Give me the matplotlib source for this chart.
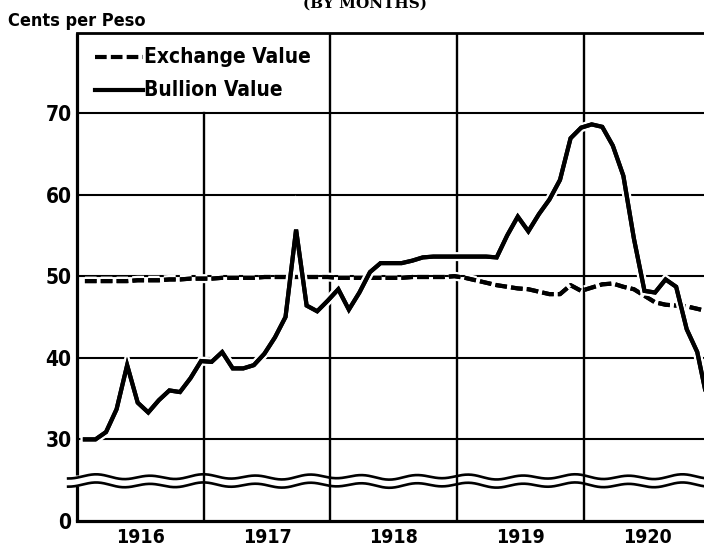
import numpy as np
import matplotlib
matplotlib.use("Agg")
import matplotlib.pyplot as plt
import matplotlib.patheffects as pe
from matplotlib.lines import Line2D
from matplotlib import font_manager as fm

# ---------------- data (monthly, Jan 1916 - Dec 1920) ----------------
years = [1916, 1917, 1918, 1919, 1920]
bullion = [
    30.0, 30.0, 30.9, 33.7, 39.1, 34.5, 33.3, 34.8, 36.0, 35.8, 37.5, 39.6,   # 1916
    39.5, 40.7, 38.7, 38.7, 39.1, 40.5, 42.5, 45.0, 55.7, 46.4, 45.7, 47.0,   # 1917
    48.4, 45.9, 48.0, 50.5, 51.6, 51.6, 51.6, 51.9, 52.3, 52.4, 52.4, 52.4,   # 1918
    52.4, 52.4, 52.4, 52.3, 55.0, 57.3, 55.5, 57.6, 59.4, 61.8, 66.9, 68.2,   # 1919
    68.6, 68.3, 66.0, 62.3, 54.6, 48.2, 48.0, 49.6, 48.7, 43.5, 40.7, 34.5,   # 1920
]
exchange = [
    49.4, 49.4, 49.4, 49.4, 49.4, 49.5, 49.5, 49.5, 49.6, 49.6, 49.7, 49.7,   # 1916
    49.7, 49.8, 49.8, 49.8, 49.8, 49.9, 49.9, 49.9, 49.9, 49.9, 49.9, 49.9,   # 1917
    49.8, 49.8, 49.8, 49.8, 49.8, 49.8, 49.8, 49.9, 49.9, 49.9, 49.9, 50.0,   # 1918
    49.8, 49.5, 49.2, 48.9, 48.7, 48.5, 48.4, 48.1, 47.8, 47.8, 48.9, 48.2,   # 1919
    48.6, 49.0, 49.1, 48.7, 48.4, 47.6, 46.8, 46.5, 46.4, 46.3, 46.0, 45.7,   # 1920
]
ytick_values = [0, 30, 40, 50, 60, 70]
series_labels = ["Exchange Value", "Bullion Value"]

# ---------------- helpers ----------------
BREAK_SHIFT = 20  # values >= 30 are drawn shifted down by 20 (broken axis)


def t(v):
    v = np.asarray(v, dtype=float)
    return np.where(v >= 30, v - BREAK_SHIFT, v * 10 / 30.0)


months = np.arange(len(bullion))
xm = years[0] + (months + 0.75) / 12.0

names = {f.name for f in fm.fontManager.ttflist}
if "Liberation Sans Narrow" in names:
    FONT = dict(family="Liberation Sans Narrow", weight="bold")
else:
    FONT = dict(family="DejaVu Sans", weight="bold", stretch="condensed")

W, H = 704, 548
fig = plt.figure(figsize=(W / 100, H / 100), dpi=100)
L, R, B, T = 77, 704, 521, 33
YTOP = 59.8
ax = fig.add_axes([L / W, 1 - B / H, (R - L) / W, (B - T) / H])
ax.set_xlim(1916, 1920.949)
ax.set_ylim(0, YTOP)

# grid
for v in ytick_values[1:]:
    ax.axhline(t(v), color="black", lw=1.5, zorder=1)
for yr in years[1:]:
    ymax = (t(70) / YTOP) if yr == 1917 else 1.0
    ax.axvline(yr, ymin=0, ymax=ymax, color="black", lw=1.7, zorder=1)

# spines
for s in ["right", "left"]:
    ax.spines[s].set_visible(False)
ax.spines["bottom"].set_linewidth(2.3)
ax.spines["top"].set_linewidth(2.0)
# broken left spine
ax.plot([1916, 1916], [0, 4.35], color="black", lw=2.3, clip_on=False,
        solid_capstyle="butt", zorder=5)
ax.plot([1916, 1916], [5.6, YTOP], color="black", lw=2.3, clip_on=False,
        solid_capstyle="butt", zorder=5)

# wavy break lines (decoration)
xw = np.linspace(1915.93, 1920.95, 600)
wave = 0.24 * np.sin(2 * np.pi * (xw - 1916.05) / 0.42) + \
    0.09 * np.sin(2 * np.pi * (xw - 1916.0) / 0.95 + 1.0)
ax.plot(xw, 5.4 + wave, color="black", lw=1.9, clip_on=False, zorder=2)
ax.plot(xw, 4.4 + wave, color="black", lw=1.9, clip_on=False, zorder=2)

# series
halo = [pe.withStroke(linewidth=6.5, foreground="white"), pe.Normal()]
dash = (0, (2.8, 1.0))
ax.plot(xm, t(exchange), color="black", lw=3.0, linestyle=dash,
        zorder=3, path_effects=halo)
ax.plot(xm, t(bullion), color="black", lw=3.0, zorder=4,
        solid_joinstyle="miter", path_effects=halo)

# ticks
ax.set_yticks(t(ytick_values))
ax.set_yticklabels([str(v) for v in ytick_values])
ax.set_xticks([y + 0.5 for y in years])
ax.set_xticklabels([str(y) for y in years])
ax.tick_params(axis="both", length=0)
ax.tick_params(axis="y", pad=4)
ax.tick_params(axis="x", pad=5)
for lab in ax.get_yticklabels():
    lab.set_fontproperties(fm.FontProperties(size=15, **FONT))
for lab in ax.get_xticklabels():
    lab.set_fontproperties(fm.FontProperties(size=14, **FONT))


# manual legend (inside top-left)
def fx(px):
    return px / W


def fy(py):
    return 1 - py / H


fig.add_artist(Line2D([fx(95), fx(143)], [fy(57), fy(57)], color="black",
                      lw=3.0, linestyle=dash))
fig.add_artist(Line2D([fx(95), fx(143)], [fy(90), fy(90)], color="black",
                      lw=3.0))
fig.text(fx(144), fy(57), series_labels[0], ha="left", va="center",
         fontproperties=fm.FontProperties(size=15, **FONT))
fig.text(fx(144), fy(90), series_labels[1], ha="left", va="center",
         fontproperties=fm.FontProperties(size=15, **FONT))

# axis unit label and cut-off subtitle (top edge of the scan)
fig.text(fx(8), fy(21), "Cents per Peso", ha="left", va="center",
         fontproperties=fm.FontProperties(size=13, **FONT))
fig.text(fx(365), fy(7.5), "(BY MONTHS)", ha="center", va="baseline",
         fontsize=11, family="DejaVu Serif", weight="bold")

fig.savefig("out.png", dpi=100, facecolor="white")
